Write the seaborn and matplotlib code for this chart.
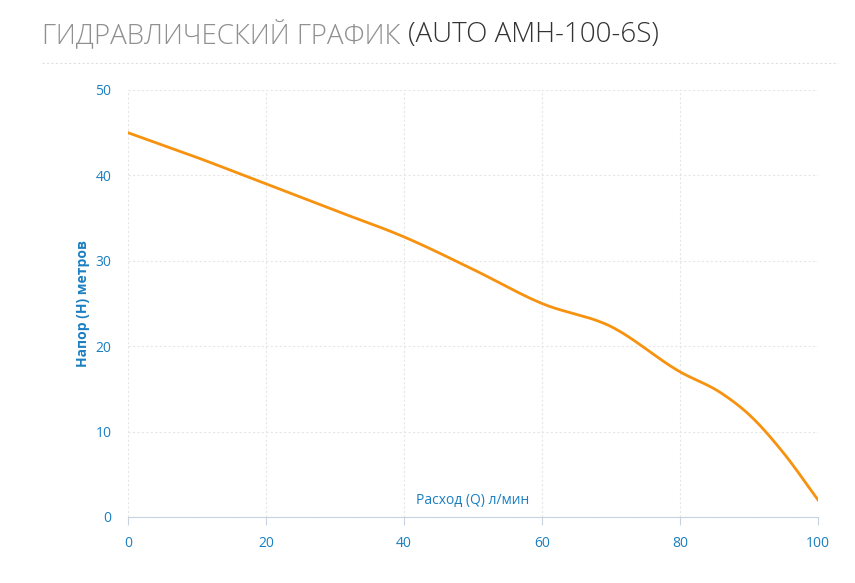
import numpy as np
import pandas as pd
import matplotlib
matplotlib.use("Agg")
import matplotlib.pyplot as plt
import seaborn as sns

flow = [0, 10, 20, 30, 40, 50, 60, 70, 80, 86, 90, 95, 100]
head = [45, 42.1, 39, 35.9, 32.8, 29, 25, 22.3, 17, 14.5, 12, 7.5, 2]

# smooth the line (cubic hermite through the read points)
x = np.array(flow, float); y = np.array(head, float)
m = np.gradient(y, x)
xs, ys = [], []
for i in range(len(x) - 1):
    h = x[i+1] - x[i]
    t = np.linspace(0, 1, 20, endpoint=False)
    h00 = 2*t**3 - 3*t**2 + 1; h10 = t**3 - 2*t**2 + t
    h01 = -2*t**3 + 3*t**2; h11 = t**3 - t**2
    xs += list(x[i] + t*h)
    ys += list(h00*y[i] + h10*h*m[i] + h01*y[i+1] + h11*h*m[i+1])
xs.append(x[-1]); ys.append(y[-1])
df = pd.DataFrame({"Q": xs, "H": ys})

plt.rcParams["font.family"] = "Open Sans"
blue = "#1a7fc1"
fig = plt.figure(figsize=(8.55, 5.83), dpi=100)
ax = fig.add_axes([128/855, 1-517/583, 690/855, 427/583])
sns.lineplot(data=df, x="Q", y="H", ax=ax, color="#f7920f", linewidth=2)
ax.set_xlim(0, 100); ax.set_ylim(0, 50)
ax.set_xticks(range(0, 101, 20)); ax.set_yticks(range(0, 51, 10))
ax.grid(True, color="#e6e6e6", linestyle=(0, (2, 2)), linewidth=0.8)
for s in ["top", "right", "left"]:
    ax.spines[s].set_visible(False)
ax.spines["bottom"].set_color("#c8d3e0")
ax.tick_params(colors=blue, labelsize=10, length=0, pad=12)
ax.tick_params(axis="x", length=6, color="#c8d3e0", pad=8)
ax.set_xlabel("")
ax.set_ylabel("Напор (H) метров", color=blue, fontsize=10, fontweight="bold", labelpad=4)
ax.text(0.5, 0.02, "Расход (Q) л/мин", transform=ax.transAxes, ha="center", va="bottom",
        color=blue, fontsize=10)

fs = 20
t = fig.text(42/855, 1-35/583, "ГИДРАВЛИЧЕСКИЙ ГРАФИК ", fontsize=fs, color="#909090",
             va="center", fontweight="light")
fig.canvas.draw()
bb = t.get_window_extent()
fig.text(bb.x1/855, 1-35/583, "(AUTO AMH-100-6S)", fontsize=fs, color="#333333",
         va="center", fontweight="light")
fig.add_artist(plt.Line2D([42/855, 838/855], [1-63/583]*2, color="#e0e0e0", linestyle=(0, (2, 2)), linewidth=0.8))
fig.savefig("out.png", dpi=100)
